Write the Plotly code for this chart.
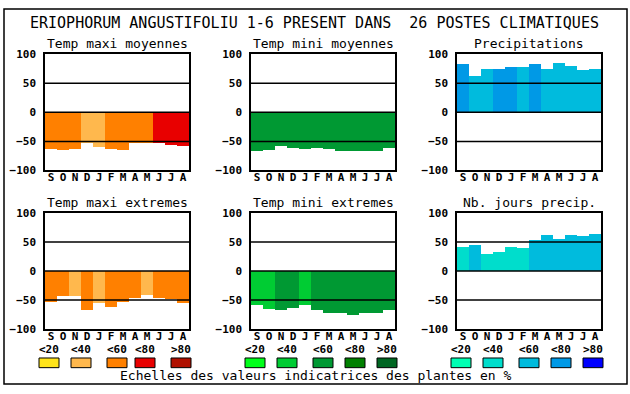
import plotly.graph_objects as go

W, H = 630, 394

months = ["S", "O", "N", "D", "J", "F", "M", "A", "M", "J", "J", "A"]

title = "ERIOPHORUM ANGUSTIFOLIU 1-6 PRESENT DANS  26 POSTES CLIMATIQUES"
footer = "Echelles des valeurs indicatrices des plantes en %"

# values per panel (percent scale) and class index (0:<20 .. 4:>80)
tmax_moy = [-63, -66, -63, -54, -61, -64, -66, -54, -53, -54, -56, -58]
tmax_moy_cls = [2, 2, 2, 1, 1, 2, 2, 2, 2, 3, 3, 3]
tmin_moy = [-67, -65, -58, -62, -63, -62, -63, -67, -67, -67, -67, -62]
tmin_moy_cls = [2] * 12
precip = [82, 62, 75, 75, 77, 77, 82, 75, 85, 80, 72, 75]
precip_cls = [3, 2, 2, 3, 3, 2, 3, 2, 2, 2, 2, 2]
tmax_ext = [-53, -43, -43, -67, -55, -62, -53, -47, -42, -47, -48, -55]
tmax_ext_cls = [2, 2, 1, 2, 1, 2, 2, 2, 1, 2, 2, 2]
tmin_ext = [-58, -65, -67, -63, -58, -67, -72, -73, -75, -72, -72, -67]
tmin_ext_cls = [1, 1, 2, 2, 1, 2, 2, 2, 2, 2, 2, 2]
jours = [42, 45, 30, 33, 42, 40, 53, 62, 55, 62, 60, 63]
jours_cls = [1, 2, 1, 1, 1, 1, 2, 2, 2, 2, 2, 2]

scale_labels = ["&lt;20", "&lt;40", "&lt;60", "&lt;80", "&gt;80"]
orange = ["#FFE41A", "#FFB84D", "#FF8000", "#E80000", "#B01000"]
green = ["#00FF1A", "#00CC33", "#009933", "#008000", "#006622"]
blue = ["#00FFB3", "#00DDCC", "#00BBDD", "#0099E6", "#0000FF"]

panels = [
    ("Temp maxi moyennes", tmax_moy, tmax_moy_cls, orange),
    ("Temp mini moyennes", tmin_moy, tmin_moy_cls, green),
    ("Precipitations", precip, precip_cls, blue),
    ("Temp maxi extremes", tmax_ext, tmax_ext_cls, orange),
    ("Temp mini extremes", tmin_ext, tmin_ext_cls, green),
    ("Nb. jours precip.", jours, jours_cls, blue),
]

def px(x):
    return x / W

def py(y):
    return 1 - y / H

col_x = [(45, 189), (251, 395), (457, 601)]
row_y = [(50, 170), (214, 334)]

FONT = "DejaVu Sans Mono"
fig = go.Figure()
shapes = []
annotations = []

for i, (name, vals, cls, pal) in enumerate(panels):
    r, c = divmod(i, 3)
    k = i + 1
    xa = "x" if k == 1 else f"x{k}"
    ya = "y" if k == 1 else f"y{k}"
    fig.add_trace(go.Bar(
        x=list(range(12)), y=vals,
        marker=dict(color=[pal[j] for j in cls], line=dict(width=0)),
        width=1.0, xaxis=xa, yaxis=ya, showlegend=False, hoverinfo="y",
    ))
    x0, x1 = col_x[c]
    y0, y1 = row_y[r]
    fig.update_layout(**{
        ("xaxis" if k == 1 else f"xaxis{k}"): dict(
            domain=[px(x0), px(x1)], range=[-0.5, 11.5], anchor=ya,
            tickvals=list(range(12)), ticktext=months,
            showgrid=False, zeroline=False,
            showline=True, mirror=True, linecolor="black", linewidth=1.5,
            ticks="", ticklabelstandoff=-4,
            tickfont=dict(family=FONT, size=11, color="black", weight="bold"),
            fixedrange=True,
        ),
        ("yaxis" if k == 1 else f"yaxis{k}"): dict(
            domain=[py(y1), py(y0)], range=[-100, 100], anchor=xa,
            tickvals=[-100, -50, 0, 50, 100],
            showgrid=False, zeroline=False,
            showline=True, mirror=True, linecolor="black", linewidth=1.5,
            ticks="outside", ticklen=5, tickcolor="rgba(0,0,0,0)",
            tickfont=dict(family=FONT, size=11, color="black", weight="bold"),
            fixedrange=True,
        ),
    })
    for v in (-50, 0, 50):
        shapes.append(dict(type="line", xref=f"{xa} domain", yref=ya,
                           x0=0, x1=1, y0=v, y1=v, layer="above",
                           line=dict(color="black", width=1.5)))
    annotations.append(dict(text=name, xref="paper", yref="paper",
                            x=px((x0 + x1) / 2), y=py(y0 - 11),
                            showarrow=False, xanchor="center", yanchor="middle",
                            font=dict(family=FONT, size=13, color="black")))

# legend scales
legend_sw_x = [
    [39, 71, 107, 135, 171],
    [245, 277, 313, 345, 377],
    [451, 483, 519, 551, 583],
]
legend_pals = [orange, green, blue]
for g in range(3):
    for j in range(5):
        sx = legend_sw_x[g][j]
        shapes.append(dict(type="rect", xref="paper", yref="paper",
                           x0=px(sx), x1=px(sx + 20), y0=py(374), y1=py(364),
                           fillcolor=legend_pals[g][j],
                           line=dict(color="black", width=1), layer="above"))
        annotations.append(dict(text=scale_labels[j], xref="paper", yref="paper",
                                x=px(sx + 10), y=py(355), showarrow=False,
                                xanchor="center", yanchor="middle",
                                font=dict(family=FONT, size=11, color="black", weight="bold")))

annotations.append(dict(text=title, xref="paper", yref="paper",
                        x=px(314), y=py(18), showarrow=False,
                        xanchor="center", yanchor="middle",
                        font=dict(family=FONT, size=15, color="black")))
annotations.append(dict(text=footer, xref="paper", yref="paper",
                        x=px(316), y=py(382), showarrow=False,
                        xanchor="center", yanchor="middle",
                        font=dict(family=FONT, size=13, color="black")))

# outer frame
shapes.append(dict(type="rect", xref="paper", yref="paper",
                   x0=px(4), x1=px(627), y0=py(391), y1=py(3),
                   line=dict(color="black", width=1.5), layer="above"))

fig.update_layout(
    width=W, height=H,
    margin=dict(l=0, r=0, t=0, b=0),
    paper_bgcolor="white", plot_bgcolor="white",
    bargap=0, shapes=shapes, annotations=annotations,
    showlegend=False,
)

fig.write_html(
    "out.html",
    config={"displayModeBar": False},
    post_script=(
        "document.documentElement.style.margin='0';"
        "document.documentElement.style.padding='0';"
        "document.body.style.margin='0';"
        "document.body.style.padding='0';"
        "document.body.style.overflow='hidden';"
    ),
)
